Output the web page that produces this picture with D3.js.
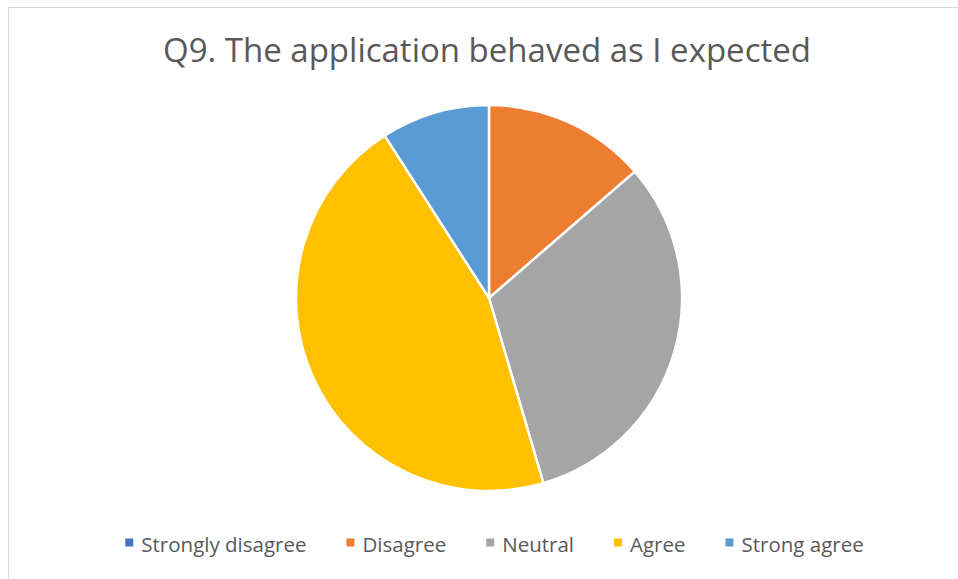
<!DOCTYPE html>
<html>
<head>
<meta charset="utf-8">
<script src="https://cdn.jsdelivr.net/npm/d3@7"></script>
<style>
  html, body { margin: 0; padding: 0; background: #fff; }
  svg { display: block; }
</style>
</head>
<body>
<svg id="chart" width="958" height="579"></svg>
<script>
// Survey responses for Q9
const categories = ["Strongly disagree", "Disagree", "Neutral", "Agree", "Strong agree"];
const counts = [0, 3, 7, 10, 2];
const colors = ["#4472C4", "#ED7D31", "#A5A5A5", "#FFC000", "#5B9BD5"];
const title = "Q9. The application behaved as I expected";

const W = 958, H = 579;
const svg = d3.select("#chart");
const font = "'Open Sans', sans-serif";

// chart area border
svg.append("rect")
  .attr("x", 8.5).attr("y", 7.5)
  .attr("width", W + 10).attr("height", H + 10)
  .attr("fill", "#fff").attr("stroke", "#D9D9D9").attr("stroke-width", 1);

// title
svg.append("text")
  .attr("x", 487).attr("y", 62)
  .attr("text-anchor", "middle")
  .attr("font-family", font)
  .attr("font-size", 33)
  .attr("fill", "#595959")
  .text(title);

// pie
const cx = 489, cy = 298, r = 193;
const data = categories.map((c, i) => ({ name: c, value: counts[i] }));
const pie = d3.pie().sort(null).value(d => d.value);
const arc = d3.arc().innerRadius(0).outerRadius(r);
const color = d3.scaleOrdinal().domain(categories).range(colors);

svg.append("g")
  .attr("transform", `translate(${cx},${cy})`)
  .selectAll("path")
  .data(pie(data))
  .join("path")
  .attr("d", arc)
  .attr("fill", d => color(d.data.name))
  .attr("stroke", "#fff")
  .attr("stroke-width", 2.5)
  .attr("stroke-linejoin", "round");

// legend
const legend = svg.append("g");
const items = legend.selectAll("g").data(categories).join("g");
items.append("rect")
  .attr("width", 8).attr("height", 8)
  .attr("y", -13.5)
  .attr("fill", d => color(d));
items.append("text")
  .attr("x", 16)
  .attr("font-family", font)
  .attr("font-size", 20.5)
  .attr("fill", "#595959")
  .text(d => d);

const gap = 40;
let xs = [], x = 0;
items.each(function () {
  xs.push(x);
  const w = d3.select(this).select("text").node().getComputedTextLength();
  x += 16 + w + gap;
});
const total = x - gap;
const startX = 494.5 - total / 2;
items.attr("transform", (d, i) => `translate(${startX + xs[i]},552)`);
</script>
</body>
</html>
